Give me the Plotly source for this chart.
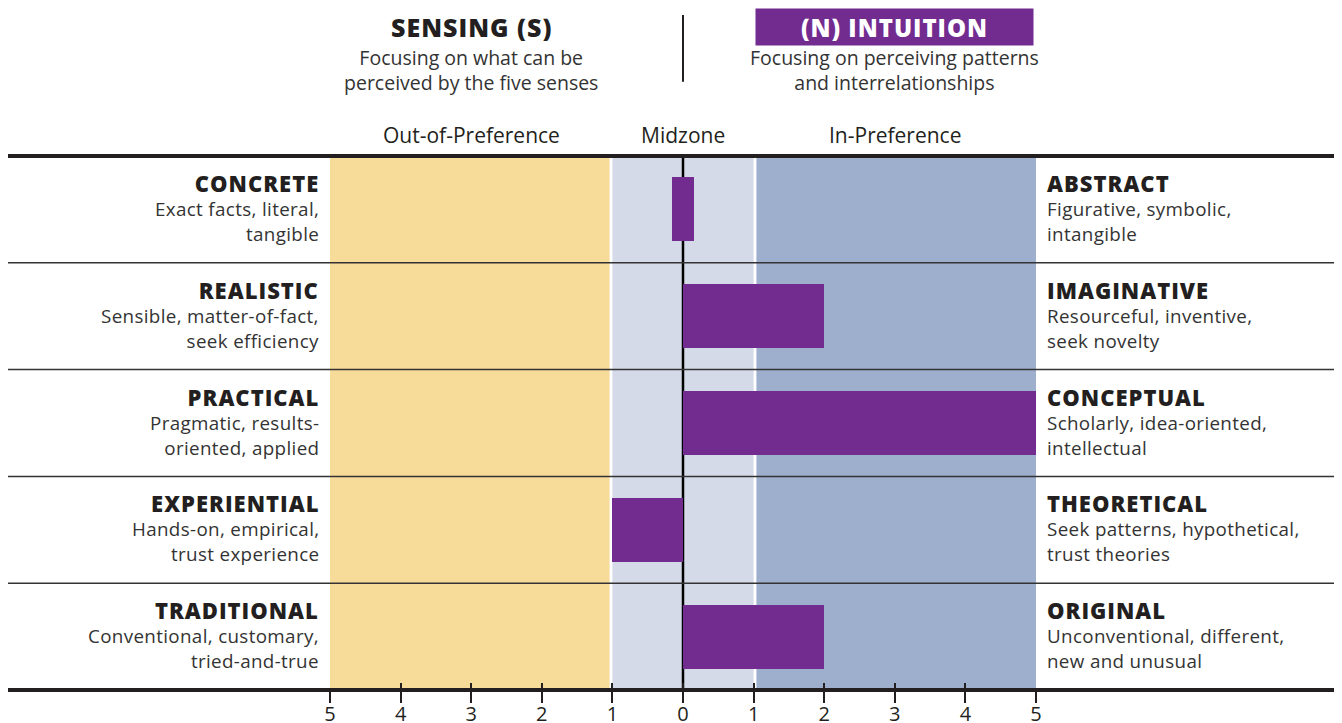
"""MBTI Step II facet chart: Sensing vs Intuition."""

import plotly.graph_objects as go

# ── Data ─────────────────────────────────────────────────────────────────────
left_titles = ["CONCRETE", "REALISTIC", "PRACTICAL", "EXPERIENTIAL", "TRADITIONAL"]
left_descs = [
    "Exact facts, literal,<br>tangible",
    "Sensible, matter-of-fact,<br>seek efficiency",
    "Pragmatic, results-<br>oriented, applied",
    "Hands-on, empirical,<br>trust experience",
    "Conventional, customary,<br>tried-and-true",
]
right_titles = ["ABSTRACT", "IMAGINATIVE", "CONCEPTUAL", "THEORETICAL", "ORIGINAL"]
right_descs = [
    "Figurative, symbolic,<br>intangible",
    "Resourceful, inventive,<br>seek novelty",
    "Scholarly, idea-oriented,<br>intellectual",
    "Seek patterns, hypothetical,<br>trust theories",
    "Unconventional, different,<br>new and unusual",
]
scores = [0, 2, 5, -1, 2]          # negative = Sensing side, positive = Intuition side
tick_vals = [-5, -4, -3, -2, -1, 0, 1, 2, 3, 4, 5]
tick_text = ["5", "4", "3", "2", "1", "0", "1", "2", "3", "4", "5"]
zone_labels = ["Out-of-Preference", "Midzone", "In-Preference"]
zone_centers = [-3, 0, 3]

# ── Styling ──────────────────────────────────────────────────────────────────
FONT = "Open Sans"
DARK = "#231f20"
GREY = "#333333"
PURPLE = "#722b8f"
YELLOW = "#f7db98"
MID = "#d4dae8"
BLUE = "#9eafce"
TITLE_STYLE = f"font-size:22px;font-weight:800;letter-spacing:1px;fill:{DARK}"
DESC_STYLE = "letter-spacing:0.35px"


def _label(title: str, desc: str) -> str:
    """Bold title line followed by the (slightly tracked) description lines."""
    lines = [f"<span style='{DESC_STYLE}'>{ln}</span>" for ln in desc.split("<br>")]
    return f"<span style='{TITLE_STYLE}'>{title}</span><br>" + "<br>".join(lines)


rows = list(range(len(scores)))
# a zero score is drawn as a short stub centred on the midline
bar_len = [s if s != 0 else 0.32 for s in scores]
bar_base = [0 if s != 0 else -0.16 for s in scores]

fig = go.Figure()
fig.add_trace(
    go.Bar(
        y=rows, x=bar_len, base=bar_base,
        orientation="h", width=0.6,
        marker=dict(color=PURPLE, line=dict(width=0)),
        showlegend=False, hoverinfo="skip",
    )
)

# background zones
for x0, x1, col in [(-5, -1.04, YELLOW), (-1.0, 1.0, MID), (1.04, 5, BLUE)]:
    fig.add_shape(type="rect", xref="x", yref="paper", x0=x0, x1=x1, y0=0, y1=1,
                  fillcolor=col, line_width=0, layer="below")

# zero line
fig.add_shape(type="line", xref="x", yref="paper", x0=0, x1=0, y0=0, y1=1,
              line=dict(color="black", width=2.5), layer="below")

# horizontal rules (extend past plot area, like the printed report)
XL, XR = -0.46, 1.44
fig.add_shape(type="line", xref="paper", yref="paper", x0=XL, x1=XR, y0=1, y1=1,
              line=dict(color=DARK, width=4))
fig.add_shape(type="line", xref="paper", yref="paper", x0=XL, x1=XR, y0=0, y1=0,
              line=dict(color=DARK, width=4))
for r in rows[:-1]:
    fig.add_shape(type="line", xref="paper", yref="y", x0=XL, x1=XR,
                  y0=r + 0.5, y1=r + 0.5, line=dict(color=GREY, width=1.5))

# row labels: bold title line + two description lines in one block
desc_font = dict(family=FONT, size=18.8, color=GREY)
for i in rows:
    fig.add_annotation(
        x=-5, y=i, xref="x", yref="y", xanchor="right", yanchor="middle",
        xshift=-9, yshift=2, showarrow=False, align="right", font=desc_font,
        text=_label(left_titles[i], left_descs[i]),
    )
    fig.add_annotation(
        x=5, y=i, xref="x", yref="y", xanchor="left", yanchor="middle",
        xshift=9, yshift=2, showarrow=False, align="left", font=desc_font,
        text=_label(right_titles[i], right_descs[i]),
    )

# zone labels
for lab, xc in zip(zone_labels, zone_centers):
    fig.add_annotation(x=xc, y=1.039, xref="x", yref="paper", text=lab,
                       xanchor="center", yanchor="middle", showarrow=False,
                       font=dict(family=FONT, size=21, color=DARK))

# header
fig.add_annotation(x=-3, y=1.242, xref="x", yref="paper",
                   text="<span style='letter-spacing:1px'>SENSING (S)</span>",
                   xanchor="center", yanchor="middle", showarrow=False,
                   font=dict(family=FONT, size=25, color=DARK, weight=800))
fig.add_annotation(x=-3, y=1.161, xref="x", yref="paper",
                   text="Focusing on what can be<br>perceived by the five senses",
                   xanchor="center", yanchor="middle", showarrow=False,
                   font=dict(family=FONT, size=19.5, color=GREY))
fig.add_annotation(x=3, y=1.242, xref="x", yref="paper",
                   text="<span style='letter-spacing:1px'>(N) INTUITION</span>",
                   xanchor="center", yanchor="middle", showarrow=False,
                   bgcolor=PURPLE, width=277, height=36, borderpad=0,
                   font=dict(family=FONT, size=24, color="white", weight=800))
fig.add_annotation(x=3, y=1.161, xref="x", yref="paper",
                   text="Focusing on perceiving patterns<br>and interrelationships",
                   xanchor="center", yanchor="middle", showarrow=False,
                   font=dict(family=FONT, size=19.5, color=GREY))
fig.add_shape(type="line", xref="x", yref="paper", x0=0, x1=0, y0=1.139, y1=1.264,
              line=dict(color=DARK, width=2))

tick_common = dict(range=[-5, 5], tickvals=tick_vals, tickwidth=1.5, tickcolor=DARK,
                   showgrid=False, zeroline=False, showline=False, automargin=False)
fig.update_layout(
    width=1334, height=715,
    margin=dict(l=322, r=306, t=148, b=33),
    plot_bgcolor="white", paper_bgcolor="white",
    bargap=0,
    xaxis=dict(ticktext=tick_text, ticks="outside", ticklen=6,
               tickfont=dict(family=FONT, size=20, color=DARK), **tick_common),
    # tick marks crossing the bottom rule: one axis draws them upward, one downward
    xaxis2=dict(overlaying="x", side="bottom", anchor="y", ticks="inside", ticklen=7,
                showticklabels=False, **tick_common),
    xaxis3=dict(overlaying="x", side="bottom", anchor="y", ticks="outside", ticklen=12,
                showticklabels=False, **tick_common),
    yaxis=dict(range=[len(scores) - 0.5, -0.5], showticklabels=False,
               showgrid=False, zeroline=False, ticks="", automargin=False),
)
# dummy traces so the extra tick axes are drawn
for ax in ("x2", "x3"):
    fig.add_trace(go.Scatter(x=[None], y=[None], xaxis=ax, showlegend=False,
                             hoverinfo="skip"))

fig.write_html("out.html")
